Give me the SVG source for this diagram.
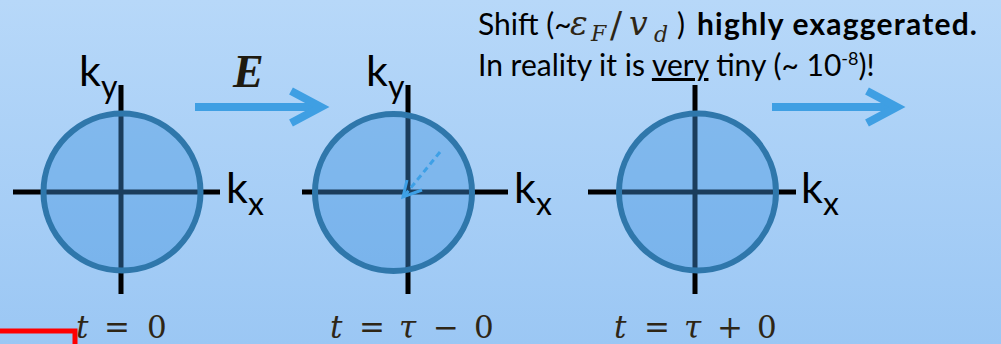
<svg xmlns="http://www.w3.org/2000/svg" width="1001" height="344" viewBox="0 0 1001 344">
  <defs>
    <linearGradient id="bg" x1="0" y1="0" x2="0" y2="1">
      <stop offset="0" stop-color="#b7d8f9"/>
      <stop offset="1" stop-color="#9bc7f4"/>
    </linearGradient>
  </defs>
  <style>
    .axis { stroke: #000; stroke-width: 5; fill: none; }
    .fs { fill: #4295e0; fill-opacity: 0.41; stroke: #2f77ab; stroke-width: 6; }
    .lbl { font-family: Lato, "Liberation Sans", sans-serif; fill: #000; }
    .k { font-size: 43px; }
    .sub { font-size: 32px; }
    .txt { font-family: Lato, "Liberation Sans", sans-serif; font-size: 30px; fill: #000; }
    .math { font-family: "DejaVu Serif", "Liberation Serif", serif; fill: #2e2616; }
    .mi { font-style: italic; }
    .tl { font-size: 31px; }
    .arrow { stroke: #3f9fe3; stroke-width: 8; fill: none; }
  </style>
  <rect x="0" y="0" width="1001" height="344" fill="url(#bg)"/>

  <g id="frame-t0">
    <line class="axis" x1="13" y1="192" x2="220" y2="192"/>
    <line class="axis" x1="121" y1="85" x2="121" y2="294"/>
    <circle class="fs" cx="122" cy="192" r="78.5"/>
    <text class="lbl k" x="79" y="86">k</text>
    <text class="lbl sub" x="101" y="98">y</text>
    <text class="lbl k" x="226" y="203">k</text>
    <text class="lbl sub" x="248" y="215">x</text>
    <text class="math tl mi" x="76" y="338">t</text>
    <text class="math tl" x="104" y="338">=</text>
    <text class="math tl" x="147" y="338">0</text>
  </g>

  <g id="frame-tau-minus">
    <line class="axis" x1="302" y1="192" x2="508" y2="192"/>
    <line class="axis" x1="408" y1="85" x2="408" y2="294"/>
    <circle class="fs" cx="393.5" cy="192.5" r="78.5"/>
    <line x1="440" y1="152" x2="405" y2="195" stroke="#3ea0e6" stroke-width="3" stroke-dasharray="6,4"/>
    <polyline points="407,180 403,197 422,190" fill="none" stroke="#3ea0e6" stroke-width="3"/>
    <text class="lbl k" x="366" y="86">k</text>
    <text class="lbl sub" x="388" y="98">y</text>
    <text class="lbl k" x="514" y="203">k</text>
    <text class="lbl sub" x="536" y="215">x</text>
    <text class="math tl mi" x="330" y="338">t</text>
    <text class="math tl" x="359" y="338">=</text>
    <text class="math tl mi" x="399" y="338">τ</text>
    <text class="math tl" x="433" y="338">−</text>
    <text class="math tl" x="474" y="338">0</text>
  </g>

  <g id="frame-tau-plus">
    <line class="axis" x1="588" y1="192" x2="796" y2="192"/>
    <line class="axis" x1="695" y1="85" x2="695" y2="294"/>
    <circle class="fs" cx="697.5" cy="192" r="78.5"/>
    <text class="lbl k" x="801" y="203">k</text>
    <text class="lbl sub" x="823" y="215">x</text>
    <text class="math tl mi" x="614" y="338">t</text>
    <text class="math tl" x="644" y="338">=</text>
    <text class="math tl mi" x="684" y="338">τ</text>
    <text class="math tl" x="717" y="338">+</text>
    <text class="math tl" x="757" y="338">0</text>
  </g>

  <g id="connectors">
    <line class="arrow" x1="195" y1="107" x2="318" y2="107"/>
    <polyline class="arrow" points="291,91 321,107 291,123"/>
    <line class="arrow" x1="772" y1="107" x2="894" y2="107"/>
    <polyline class="arrow" points="867,91 897,107 867,123"/>
  </g>

  <g id="E-label">
    <text x="233" y="87" font-family="'Liberation Serif', serif" font-size="46" font-weight="bold" font-style="italic" fill="#1e1a10">E</text>
  </g>

  <g id="note">
    <text class="txt" x="478" y="35">Shift (~</text>
    <text class="math mi" x="570" y="35" font-size="33">ε</text>
    <text class="math mi" x="591" y="41" font-size="22">F</text>
    <text class="math" x="610" y="37" font-size="36">/</text>
    <text class="math mi" x="629" y="35" font-size="33">v</text>
    <text class="math mi" x="654" y="42" font-size="22">d</text>
    <text class="txt" x="677" y="35">)</text>
    <text class="txt" x="697" y="35" font-size="31" font-weight="bold" textLength="280">highly exaggerated.</text>
    <text class="txt" x="478" y="76">In reality it is <tspan text-decoration="underline">very</tspan> tiny (~ 10<tspan font-size="18" dy="-11">-8</tspan><tspan dy="11">)!</tspan></text>
  </g>

  <g id="marker-box">
    <rect x="-5" y="331" width="80" height="30" fill="none" stroke="#ff0000" stroke-width="5"/>
  </g>
</svg>
